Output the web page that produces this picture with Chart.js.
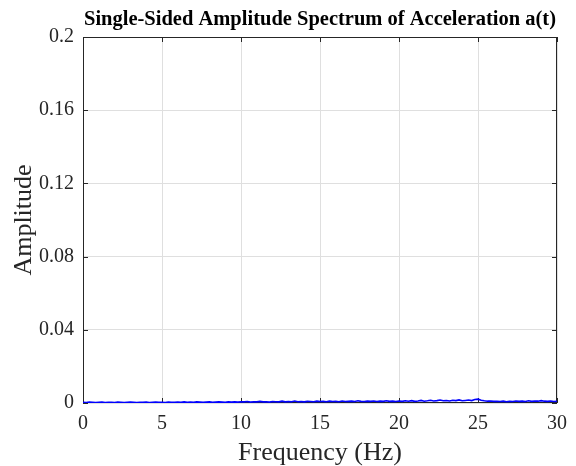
<!DOCTYPE html>
<html>
<head>
<meta charset="utf-8">
<script src="https://cdn.jsdelivr.net/npm/chart.js@4"></script>
<style>
  body { margin: 0; background: #fff; }
  canvas { display: block; }
</style>
</head>
<body>
<canvas id="spectrumChart" width="576" height="466"></canvas>
<script>
const freqStep = 0.2; // Hz between spectrum bins
const amplitudes = [
    0.0004, 0.0003, 0.0005, 0.0004, 0.0003, 0.0004, 0.0005, 0.0003, 0.0004, 0.0004,
    0.0003, 0.0005, 0.0004, 0.0003, 0.0004, 0.0005, 0.0004, 0.0003, 0.0004, 0.0004,
    0.0005, 0.0003, 0.0004, 0.0005, 0.0004, 0.0004, 0.0003, 0.0005, 0.0004, 0.0004,
    0.0005, 0.0004, 0.0006, 0.0004, 0.0005, 0.0004, 0.0006, 0.0005, 0.0004, 0.0005,
    0.0006, 0.0004, 0.0005, 0.0006, 0.0005, 0.0004, 0.0006, 0.0005, 0.0006, 0.0005,
    0.0007,
    0.0006, 0.0008, 0.0005, 0.0007, 0.0006, 0.0009, 0.0006, 0.0007, 0.0005, 0.0008,
    0.0007, 0.0006, 0.0010, 0.0006, 0.0008, 0.0007, 0.0011, 0.0007, 0.0008, 0.0006,
    0.0009, 0.0008, 0.0007, 0.0010, 0.0008, 0.0009, 0.0007, 0.0010, 0.0008, 0.0009,
    0.0007, 0.0011, 0.0008, 0.0009, 0.0010, 0.0008, 0.0012, 0.0009, 0.0008, 0.0010,
    0.0009, 0.0011, 0.0008, 0.0010, 0.0009, 0.0012, 0.0009, 0.0010, 0.0008, 0.0011,
    0.0009, 0.0012, 0.0010, 0.0013, 0.0009, 0.0011, 0.0014, 0.0010, 0.0012, 0.0015,
    0.0011, 0.0013, 0.0016, 0.0012, 0.0014, 0.0011, 0.0015, 0.0013, 0.0017, 0.0012,
    0.0014, 0.0016, 0.0013, 0.0019, 0.0021, 0.0015, 0.0012, 0.0010, 0.0011, 0.0009,
    0.0009, 0.0008, 0.0010, 0.0007, 0.0009, 0.0008, 0.0011, 0.0009, 0.0010, 0.0008,
    0.0012, 0.0009, 0.0011, 0.0010, 0.0013, 0.0010, 0.0009, 0.0011, 0.0008, 0.0010
];
const xTicks = [0, 5, 10, 15, 20, 25, 30];
const yTicks = [0, 0.04, 0.08, 0.12, 0.16, 0.2];
const yTickLabels = ['0', '0.04', '0.08', '0.12', '0.16', '0.2'];

const points = amplitudes.map((a, i) => ({ x: i * freqStep, y: a }));

const serif = "'Liberation Serif', 'Times New Roman', serif";
const textColor = '#262626';

// MATLAB style box with ticks pointing inward on all four sides (under the data line)
const boxTicks = {
    id: 'boxTicks',
    beforeDatasetsDraw(chart) {
        const { ctx, chartArea: a, scales: { x, y } } = chart;
        const len = 5;
        ctx.save();
        ctx.strokeStyle = textColor;
        ctx.lineWidth = 1;
        ctx.beginPath();
        x.ticks.forEach(t => {
            const px = Math.round(x.getPixelForValue(t.value)) + 0.5;
            ctx.moveTo(px, a.bottom); ctx.lineTo(px, a.bottom - len);
            ctx.moveTo(px, a.top); ctx.lineTo(px, a.top + len);
        });
        y.ticks.forEach(t => {
            const py = Math.round(y.getPixelForValue(t.value)) + 0.5;
            ctx.moveTo(a.left, py); ctx.lineTo(a.left + len, py);
            ctx.moveTo(a.right, py); ctx.lineTo(a.right - len, py);
        });
        ctx.stroke();
        ctx.strokeRect(Math.round(a.left) + 0.5, Math.round(a.top) + 0.5,
            Math.round(a.right - a.left) - 1, Math.round(a.bottom - a.top) - 1);
        ctx.restore();
    }
};

new Chart(document.getElementById('spectrumChart').getContext('2d'), {
    type: 'line',
    data: {
        datasets: [{
            data: points,
            borderColor: '#0000ff',
            borderWidth: 1.6,
            pointRadius: 0,
            tension: 0,
            fill: false
        }]
    },
    options: {
        responsive: false,
        animation: false,
        layout: { padding: { left: 0, right: 14, top: 0, bottom: 0 } },
        plugins: {
            legend: { display: false },
            tooltip: { enabled: false },
            title: {
                display: true,
                fullSize: false,
                text: 'Single-Sided Amplitude Spectrum of Acceleration a(t)',
                color: '#000',
                font: { family: serif, size: 20.5, weight: 'bold', lineHeight: 1 },
                padding: { top: 9, bottom: 7.5 }
            }
        },
        scales: {
            x: {
                type: 'linear',
                min: 0,
                max: 30,
                afterBuildTicks: scale => { scale.ticks = xTicks.map(v => ({ value: v })); },
                afterFit: scale => { scale.height = 63; },
                ticks: {
                    color: textColor,
                    font: { family: serif, size: 20 },
                    padding: 9,
                    maxRotation: 0,
                    callback: v => String(v)
                },
                grid: { color: '#dfdfdf', lineWidth: 1, drawTicks: false },
                border: { display: false },
                title: {
                    display: true,
                    text: 'Frequency (Hz)',
                    color: textColor,
                    font: { family: serif, size: 26, lineHeight: 1 },
                    padding: { top: 0, bottom: 0 }
                }
            },
            y: {
                type: 'linear',
                min: 0,
                max: 0.2,
                afterBuildTicks: scale => { scale.ticks = yTicks.map(v => ({ value: v })); },
                afterFit: scale => { scale.width = 83; },
                ticks: {
                    color: textColor,
                    font: { family: serif, size: 20 },
                    padding: 9,
                    callback: (v, i) => yTickLabels[i]
                },
                grid: { color: '#dfdfdf', lineWidth: 1, drawTicks: false },
                border: { display: false },
                title: {
                    display: true,
                    text: 'Amplitude',
                    color: textColor,
                    font: { family: serif, size: 26, lineHeight: 1 },
                    padding: { top: 11, bottom: 0 }
                }
            }
        }
    },
    plugins: [boxTicks]
});
</script>
</body>
</html>
